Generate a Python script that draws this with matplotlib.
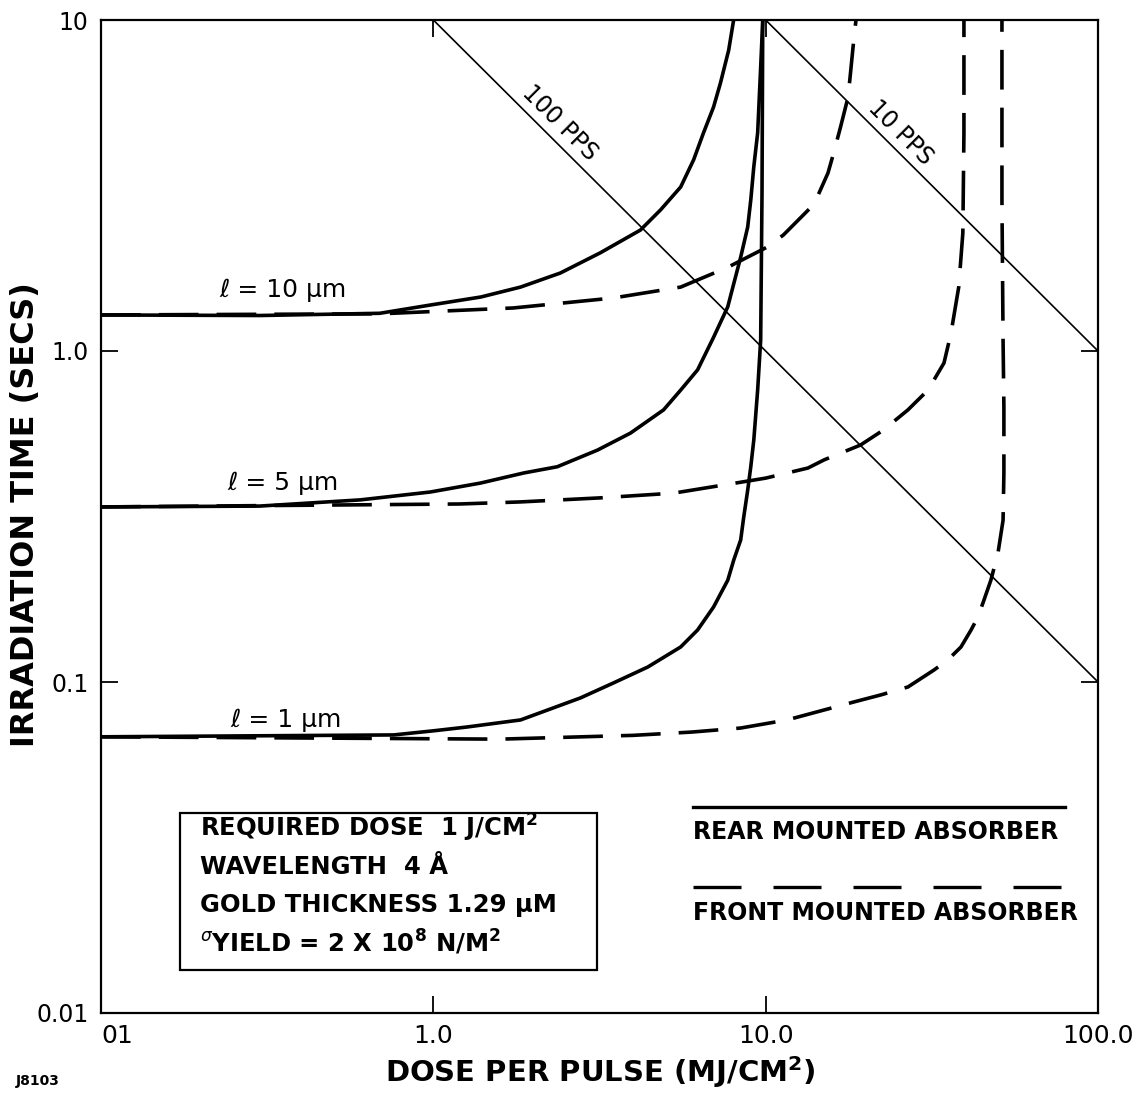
import matplotlib
matplotlib.use("Agg")
import matplotlib.pyplot as plt
from matplotlib.lines import Line2D
from matplotlib.patches import Rectangle

# ---------------- data ----------------
# Rear mounted absorber (solid)
rear_10_x = [0.1, 0.3, 0.69, 0.98, 1.39, 1.83, 2.41, 3.18, 4.20, 4.83, 5.55, 6.07, 6.50,
             6.97, 7.31, 7.74, 8.01]
rear_10_y = [1.285, 1.28, 1.30, 1.377, 1.456, 1.56, 1.72, 1.98, 2.32, 2.67, 3.13, 3.78, 4.56,
             5.46, 6.45, 8.11, 10.0]

rear_5_x = [0.1, 0.3, 0.603, 0.98, 1.386, 1.87, 2.36, 3.12, 3.92, 4.93, 5.55, 6.24, 6.97,
            7.69, 8.02, 8.41, 8.83, 9.02, 9.21, 9.46, 9.66, 9.8]
rear_5_y = [0.338, 0.340, 0.355, 0.375, 0.399, 0.428, 0.447, 0.502, 0.565, 0.664, 0.762, 0.877,
            1.10, 1.36, 1.60, 1.92, 2.37, 2.86, 3.6, 4.56, 7.2, 10.0]

rear_1_x = [0.1, 0.76, 1.0, 1.26, 1.83, 2.77, 3.48, 4.42, 5.55, 6.24, 6.97, 7.69, 8.02, 8.41,
            8.59, 8.83, 9.02, 9.21, 9.46, 9.66, 9.75, 9.8]
rear_1_y = [0.0683, 0.0692, 0.0712, 0.0731, 0.0768, 0.0895, 0.0993, 0.111, 0.1276, 0.1436,
            0.1685, 0.203, 0.234, 0.2685, 0.315, 0.38, 0.447, 0.538, 0.762, 1.08, 3.0, 10.0]

# Front mounted absorber (dashed)
front_10_x = [0.1, 0.69, 1.74, 3.48, 5.55, 7.69, 10.1, 11.3, 13.7, 14.3, 15.4, 16.0,
              16.8, 17.7, 18.0, 18.5, 18.7]
front_10_y = [1.285, 1.295, 1.349, 1.446, 1.56, 1.79, 2.06, 2.24, 2.72, 2.92, 3.45, 3.95,
              4.75, 5.85, 6.92, 9.14, 10.0]

front_5_x = [0.1, 1.2, 1.83, 3.18, 5.28, 8.24, 10.0, 13.4, 15.0, 19.3, 22.6, 26.8, 30.8, 34.4,
             36.1, 38.1, 39.2, 39.5, 39.5]
front_5_y = [0.338, 0.345, 0.35, 0.36, 0.372, 0.40, 0.413, 0.443, 0.469, 0.52, 0.577, 0.664,
             0.762, 0.92, 1.13, 1.56, 2.27, 4.56, 10.0]

front_1_x = [0.1, 1.59, 4.0, 6.0, 8.41, 11.6, 18.4, 22.2, 26.8, 32.1, 35.3, 38.7, 41.5, 43.5,
             45.4, 47.6, 50.0, 51.8, 52.1, 52.1, 51.8, 51.4, 51.4]
front_1_y = [0.0683, 0.0672, 0.0690, 0.0706, 0.0726, 0.0768, 0.087, 0.0914, 0.0966, 0.1087,
             0.1165, 0.1276, 0.1436, 0.157, 0.177, 0.203, 0.245, 0.308, 0.428, 0.677, 1.08,
             2.86, 10.0]

# Pulse-rate lines
pps100_x = [1.0, 100.0]
pps100_y = [10.0, 0.1]
pps10_x = [10.0, 100.0]
pps10_y = [10.0, 1.0]

xticks = [0.1, 1.0, 10.0, 100.0]
xtick_labels = ["01", "1.0", "10.0", "100.0"]
yticks = [0.01, 0.1, 1.0, 10.0]
ytick_labels = ["0.01", "0.1", "1.0", "10"]

# ---------------- figure ----------------
W, H = 1135, 1094
fig = plt.figure(figsize=(W / 100, H / 100), dpi=100)
ax = fig.add_axes([101 / W, 1 - 1013 / H, 997 / W, 993 / H])
ax.set_xscale("log")
ax.set_yscale("log")
ax.set_xlim(0.1, 100)
ax.set_ylim(0.01, 10)

for s in ax.spines.values():
    s.set_linewidth(1.6)

ax.set_xticks(xticks)
ax.set_xticklabels(xtick_labels)
ax.set_yticks(yticks)
ax.set_yticklabels(ytick_labels)
ax.minorticks_off()
ax.tick_params(direction="in", length=12, width=1.3, top=True, right=True,
               labelsize=17, pad=9)
ax.tick_params(axis="x", labelsize=18, pad=8)
ax.get_xticklabels()[0].set_horizontalalignment("left")

lw = 2.6
dash = (0, (11, 5))
ax.plot(rear_10_x, rear_10_y, color="black", lw=lw, solid_capstyle="round",
        solid_joinstyle="round")
ax.plot(rear_5_x, rear_5_y, color="black", lw=lw, solid_capstyle="round",
        solid_joinstyle="round")
ax.plot(rear_1_x, rear_1_y, color="black", lw=lw, solid_capstyle="round",
        solid_joinstyle="round")
ax.plot(front_10_x, front_10_y, color="black", lw=lw, ls=dash)
ax.plot(front_5_x, front_5_y, color="black", lw=lw, ls=dash)
ax.plot(front_1_x, front_1_y, color="black", lw=lw, ls=dash)

ax.plot(pps100_x, pps100_y, color="black", lw=1.2)
ax.plot(pps10_x, pps10_y, color="black", lw=1.2)

# curve labels
lab_kw = dict(fontsize=18, ha="center", va="center")
ax.text(0.353, 1.53, "ℓ = 10 μm", **lab_kw)
ax.text(0.353, 0.40, "ℓ = 5 μm", **lab_kw)
ax.text(0.36, 0.0768, "ℓ = 1 μm", **lab_kw)

ax.text(2.41, 4.89, "100 PPS", fontsize=17, rotation=-45, rotation_mode="anchor",
        ha="center", va="center")
ax.text(25.5, 4.56, "10 PPS", fontsize=17, rotation=-45, rotation_mode="anchor",
        ha="center", va="center")

# information box
ax.add_patch(Rectangle((0.0792, 0.0433), 0.4183, 0.1581, transform=ax.transAxes,
                       fill=False, lw=1.6, ec="black"))
box_lines = [
    r"REQUIRED DOSE  1 J/CM$^{\mathbf{2}}$",
    "WAVELENGTH  4 Å",
    "GOLD THICKNESS 1.29 μM",
    r"$^{\sigma}$YIELD = 2 X 10$^{\mathbf{8}}$ N/M$^{\mathbf{2}}$",
]
box_y = [0.1863, 0.1470, 0.1088, 0.0705]
for t, yy in zip(box_lines, box_y):
    ax.text(0.0993, yy, t, transform=ax.transAxes, fontsize=17.5, fontweight="bold",
            ha="left", va="center")

# legend
ax.add_line(Line2D([0.594, 0.967], [0.2075, 0.2075], transform=ax.transAxes,
                   color="black", lw=2.4))
ax.text(0.594, 0.1823, "REAR MOUNTED ABSORBER", transform=ax.transAxes,
        fontsize=17, fontweight="bold", ha="left", va="center")
ax.add_line(Line2D([0.594, 0.967], [0.1269, 0.1269], transform=ax.transAxes,
                   color="black", lw=2.4, ls=(0, (14.4, 9.6))))
ax.text(0.594, 0.1007, "FRONT MOUNTED ABSORBER", transform=ax.transAxes,
        fontsize=17, fontweight="bold", ha="left", va="center")

# axis labels
ax.set_xlabel(r"DOSE PER PULSE (MJ/CM$^{\mathbf{2}}$)", fontsize=21, fontweight="bold")
ax.xaxis.label.set_verticalalignment("center")
ax.xaxis.set_label_coords(0.5005, -0.0590)
ax.set_ylabel("IRRADIATION TIME (SECS)", fontsize=23, fontweight="bold")
ax.yaxis.label.set_verticalalignment("center")
ax.yaxis.set_label_coords(-0.0762, 0.5015)

fig.text(38 / W, 1 - 1081 / H, "J8103", fontsize=10, fontweight="bold",
         ha="center", va="center")

fig.savefig("out.png", dpi=100)
